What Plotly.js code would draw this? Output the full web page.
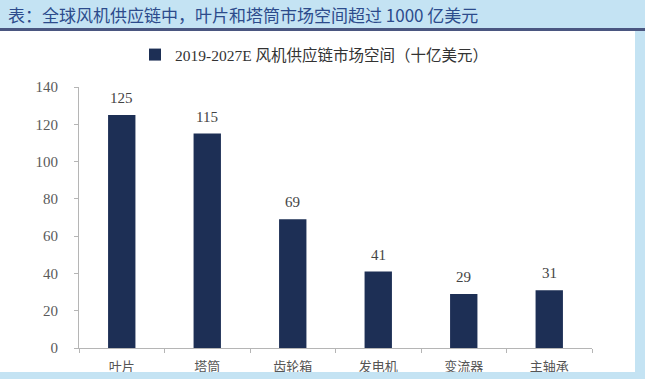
<!DOCTYPE html>
<html><head><meta charset="utf-8">
<script src="https://cdn.plot.ly/plotly-3.0.1.min.js"></script>
<style>html,body{margin:0;padding:0;background:#fff;}#c{width:645px;height:379px;}</style>
</head><body><div id="c"></div>
<script>
const categories = ['叶片','塔筒','齿轮箱','发电机','变流器','主轴承'];
const values = [125,115,69,41,29,31];
const seriesName = '2019-2027E 风机供应链市场空间（十亿美元）';
const titleText = '表：全球风机供应链中，叶片和塔筒市场空间超过 1000 亿美元';
const yTicks = [0,20,40,60,80,100,120,140];

const serif = '"Liberation Serif", "Noto Sans CJK SC", serif';
const L = 79, R = 53, T = 87, B = 31;
const PW = 645 - L - R, PH = 379 - T - B;
const px = v => (v - L) / PW;           // pixel x -> paper
const py = v => (379 - B - v) / PH;     // pixel y -> paper

const trace = {
  type:'bar', x:categories, y:values, name:seriesName,
  marker:{color:'#1d2f55'}, width:0.32, showlegend:true, hoverinfo:'none'
};
const labelAnns = categories.map((c,i)=>({
  x:c, y:values[i], xref:'x', yref:'y', text:String(values[i]), showarrow:false,
  yanchor:'bottom', yshift:7, font:{family:serif, size:15, color:'#444'}
}));
const layout = {
  width:645, height:379,
  margin:{l:L, r:R, t:T, b:B},
  paper_bgcolor:'#fff', plot_bgcolor:'#fff',
  showlegend:true,
  legend:{x:px(135), xanchor:'left', y:py(55), yanchor:'middle', orientation:'h',
    font:{family:serif, size:15.5, color:'#333'}, itemwidth:30},
  xaxis:{showline:true, linecolor:'#b5b5b5', linewidth:1, ticks:'outside', tickson:'boundaries',
    ticklen:4, tickcolor:'#b5b5b5', ticklabelstandoff:6,
    tickfont:{family:'"Noto Sans CJK SC", sans-serif', size:13, color:'#555'}, fixedrange:true},
  yaxis:{range:[0,140], tickvals:yTicks, showline:true, linecolor:'#b5b5b5', linewidth:1, ticks:'outside',
    ticklen:4, tickcolor:'#b5b5b5', showgrid:false, zeroline:false, ticklabelstandoff:13,
    tickfont:{family:serif, size:15, color:'#5a5a5a'}},
  shapes:[
    {type:'rect', xref:'paper', yref:'paper', x0:px(0), x1:px(645), y0:py(0), y1:py(28), fillcolor:'#c4e3f3', line:{width:0}, layer:'below'},
    {type:'rect', xref:'paper', yref:'paper', x0:px(0), x1:px(645), y0:py(28), y1:py(31), fillcolor:'#4a5680', line:{width:0}},
    {type:'rect', xref:'paper', yref:'paper', x0:px(635), x1:px(645), y0:py(379), y1:py(31), fillcolor:'#c4e3f3', line:{width:0}},
    {type:'rect', xref:'paper', yref:'paper', x0:px(0), x1:px(645), y0:py(379), y1:py(372), fillcolor:'#c4e3f3', line:{width:0}}
  ],
  annotations:[
    {text:titleText, xref:'paper', yref:'paper', x:px(6), xanchor:'left', y:py(14), yanchor:'middle',
     showarrow:false, font:{family:'"Noto Sans CJK SC", sans-serif', size:17, color:'#2c4b8c'}}
  ].concat(labelAnns)
};
Plotly.newPlot('c',[trace],layout,{displayModeBar:false, staticPlot:true});
</script></body></html>
